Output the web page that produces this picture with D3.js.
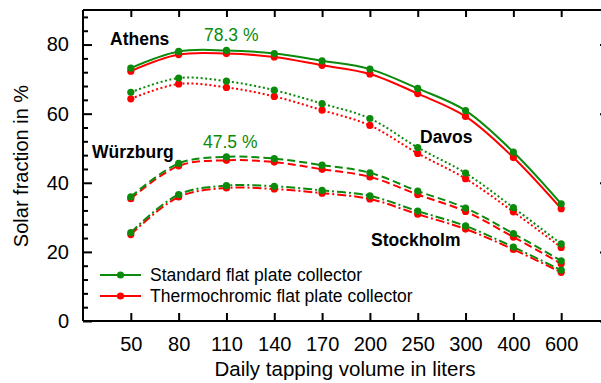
<!DOCTYPE html>
<html>
<head>
<meta charset="utf-8">
<script src="https://cdn.jsdelivr.net/npm/d3@7"></script>
<style>
  body { margin: 0; background: #fff; }
  text { font-family: "Liberation Sans", Arial, sans-serif; }
</style>
</head>
<body>
<svg width="601" height="383"></svg>
<script>
const volumes = ['50', '80', '110', '140', '170', '200', '250', '300', '400', '600'];

// solar fraction in %, standard (std) and thermochromic (tc) collectors
const athensStd = [73.2, 78.0, 78.3, 77.4, 75.3, 72.9, 67.3, 60.9, 48.9, 33.9];
const athensTc = [72.3, 77.1, 77.4, 76.4, 74.0, 71.5, 65.8, 59.2, 47.3, 32.5];
const davosStd = [66.2, 70.3, 69.4, 66.8, 62.9, 58.6, 50.2, 42.8, 32.8, 22.3];
const davosTc = [64.3, 68.6, 67.6, 65.0, 61.0, 56.6, 48.5, 41.2, 31.6, 21.3];
const wuerzburgStd = [35.9, 45.6, 47.5, 47.0, 45.1, 42.9, 37.6, 32.7, 25.3, 17.4];
const wuerzburgTc = [35.4, 44.9, 46.5, 46.0, 43.9, 41.7, 36.6, 31.7, 24.3, 16.6];
const stockholmStd = [25.6, 36.6, 39.2, 39.0, 37.8, 36.2, 31.8, 27.5, 21.4, 14.7];
const stockholmTc = [25.0, 35.9, 38.5, 38.2, 37.0, 35.3, 30.9, 26.6, 20.7, 14.1];

const yTicks = [0, 20, 40, 60, 80];

const svg = d3.select('svg');
const width = +svg.attr('width');
const height = +svg.attr('height');

const margin = { top: 10, right: -8, bottom: 62, left: 83 };
const innerWidth = width - margin.left - margin.right;
const innerHeight = height - margin.top - margin.bottom;

const green = '#0b8a0b';
const red = '#ff0000';

const xScale = d3.scalePoint()
    .domain(volumes)
    .range([0, innerWidth])
    .padding(1);

const yScale = d3.scaleLinear()
    .domain([0, 90])
    .range([innerHeight, 0]);

const g = svg.append('g')
    .attr('transform', `translate(${margin.left}, ${margin.top})`);

// frame
const frame = [
    [0, 0, 0, innerHeight],
    [0, innerHeight, innerWidth, innerHeight],
    [0, 0, innerWidth, 0],
    [innerWidth, 0, innerWidth, innerHeight]
];
g.selectAll('.frame').data(frame)
    .enter().append('line')
    .attr('x1', d => d[0]).attr('y1', d => d[1])
    .attr('x2', d => d[2]).attr('y2', d => d[3])
    .attr('stroke', '#000')
    .attr('stroke-width', 2);

// y axis: inward ticks, minor every 4
const minor = d3.range(0, 90, 4).filter(v => v % 20 !== 0);

const yAxis = d3.axisLeft(yScale).tickValues(yTicks).tickSize(-9).tickPadding(14);
const yAxisG = g.append('g').call(yAxis);
yAxisG.select('.domain').remove();
yAxisG.selectAll('.tick line').attr('stroke-width', 2);
yAxisG.selectAll('text').attr('font-size', 20).attr('fill', '#000');

const bare = a => {
    a.select('.domain').remove();
    a.selectAll('.tick text').remove();
    a.selectAll('.tick line').attr('stroke-width', 2);
};

g.append('g').call(d3.axisLeft(yScale).tickValues(minor).tickSize(-5)).call(bare);

g.append('g').attr('transform', `translate(${innerWidth}, 0)`)
    .call(d3.axisRight(yScale).tickValues(yTicks).tickSize(-9)).call(bare);

// x axes
const xAxisG = g.append('g')
    .attr('transform', `translate(0, ${innerHeight})`)
    .call(d3.axisBottom(xScale).tickSize(-8).tickPadding(16));
xAxisG.select('.domain').remove();
xAxisG.selectAll('.tick line').attr('stroke-width', 2);
xAxisG.selectAll('text').attr('font-size', 20).attr('fill', '#000');

g.append('g')
    .call(d3.axisTop(xScale).tickSize(-7)).call(bare);

// axis titles
g.append('text')
    .attr('x', (345 - margin.left))
    .attr('y', 376 - margin.top)
    .attr('text-anchor', 'middle')
    .attr('font-size', 20.5)
    .text('Daily tapping volume in liters');

g.append('text')
    .attr('transform', `translate(${28 - margin.left}, ${166 - margin.top}) rotate(-90)`)
    .attr('text-anchor', 'middle')
    .attr('font-size', 20)
    .text('Solar fraction in %');

// series
const series = [
    { values: athensTc, color: red, dash: null },
    { values: athensStd, color: green, dash: null },
    { values: davosTc, color: red, dash: '2,2.5' },
    { values: davosStd, color: green, dash: '2,2.5' },
    { values: wuerzburgTc, color: red, dash: '8,4' },
    { values: wuerzburgStd, color: green, dash: '8,4' },
    { values: stockholmTc, color: red, dash: '9,3,2,3' },
    { values: stockholmStd, color: green, dash: '9,3,2,3' }
];

const line = d3.line()
    .x((d, i) => xScale(volumes[i]))
    .y(d => yScale(d))
    .curve(d3.curveCatmullRom.alpha(0.5));

series.forEach(s => {
    g.append('path')
        .datum(s.values)
        .attr('d', line)
        .attr('fill', 'none')
        .attr('stroke', s.color)
        .attr('stroke-width', 2)
        .attr('stroke-dasharray', s.dash);
    g.selectAll(null).data(s.values)
        .enter().append('circle')
        .attr('cx', (d, i) => xScale(volumes[i]))
        .attr('cy', d => yScale(d))
        .attr('r', 3.6)
        .attr('fill', s.color);
});

// annotations
const labels = [
    { text: 'Athens', x: 110, y: 45, bold: true, color: '#000' },
    { text: 'Würzburg', x: 92, y: 158, bold: true, color: '#000' },
    { text: 'Davos', x: 420, y: 143, bold: true, color: '#000' },
    { text: 'Stockholm', x: 371, y: 246, bold: true, color: '#000' },
    { text: '78.3 %', x: 204, y: 41, bold: false, color: green },
    { text: '47.5 %', x: 203, y: 148, bold: false, color: green }
];
svg.selectAll('.label').data(labels)
    .enter().append('text')
    .attr('x', d => d.x)
    .attr('y', d => d.y)
    .attr('font-size', 17.5)
    .attr('font-weight', d => d.bold ? 'bold' : 'normal')
    .attr('fill', d => d.color)
    .text(d => d.text);

// legend
const legend = [
    { text: 'Standard flat plate collector', color: green, y: 275 },
    { text: 'Thermochromic flat plate collector', color: red, y: 296 }
];
const lg = svg.selectAll('.legend').data(legend)
    .enter().append('g')
    .attr('transform', d => `translate(100, ${d.y})`);
lg.append('line')
    .attr('x1', 0).attr('x2', 41)
    .attr('stroke', d => d.color)
    .attr('stroke-width', 2);
lg.append('circle')
    .attr('cx', 20.5).attr('r', 3.6)
    .attr('fill', d => d.color);
lg.append('text')
    .attr('x', 50)
    .attr('y', 6)
    .attr('font-size', 17.5)
    .text(d => d.text);
</script>
</body>
</html>
